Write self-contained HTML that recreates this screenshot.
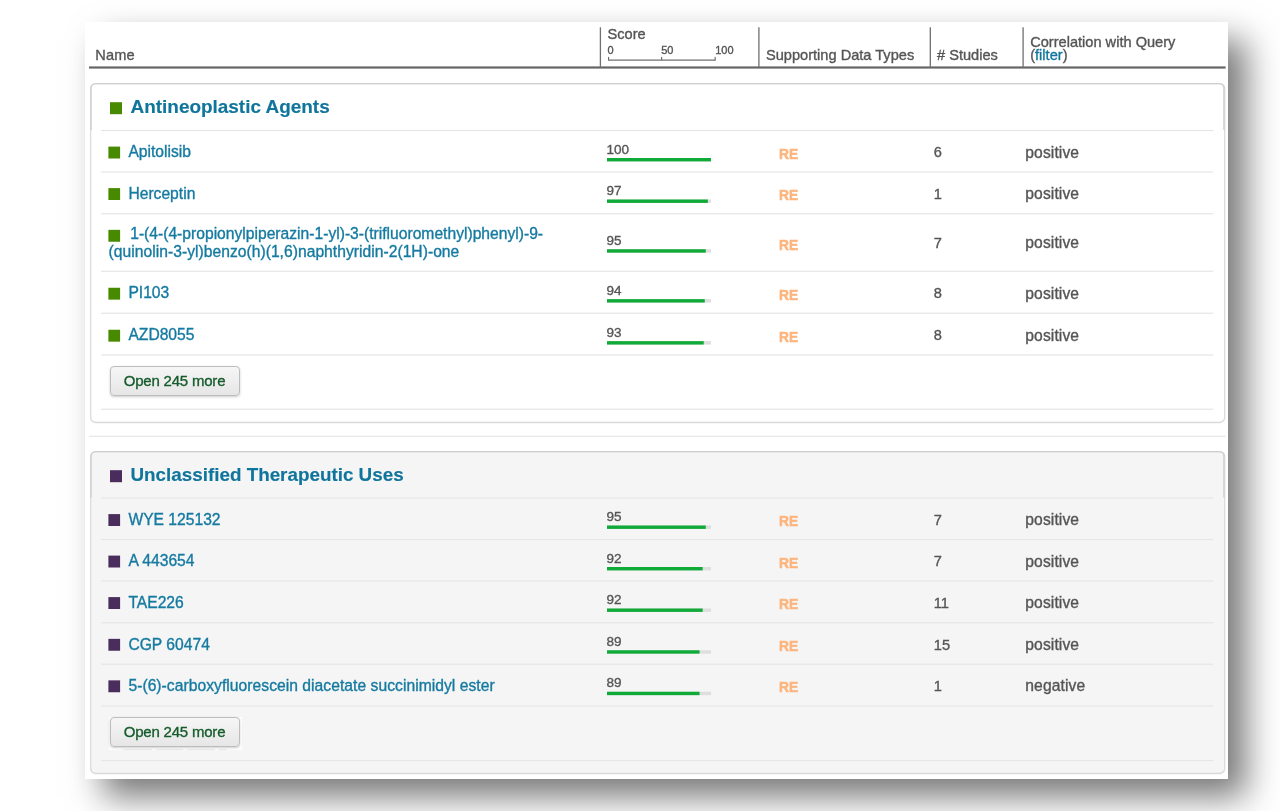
<!DOCTYPE html>
<html lang="en"><head><meta charset="utf-8"><title>Results</title>
<style>
html,body{margin:0;padding:0;background:#fff;}
body{width:1280px;height:811px;position:relative;overflow:hidden;font-family:"Liberation Sans",Arial,Helvetica,sans-serif;}
#page{position:absolute;left:85px;top:22px;width:1143px;height:757px;background:#fff;box-shadow:17.5px 18px 32px 0 rgba(0,0,0,0.53);}
.t{position:absolute;white-space:nowrap;-webkit-text-stroke:0.35px currentColor;}
.t.b{-webkit-text-stroke:0.15px currentColor;}
.t.re{-webkit-text-stroke:0.55px currentColor;transform:scaleX(0.92);transform-origin:0 0;}
#g{position:absolute;left:0;top:0;pointer-events:none;}
.box{position:absolute;box-sizing:border-box;border-radius:5px;box-shadow:0 1px 2px rgba(0,0,0,0.13);}
.bk{position:absolute;background:#fff;}
.btn{position:absolute;box-sizing:border-box;width:130px;height:30px;border:1px solid #bdbdbd;border-radius:4px;
 background:linear-gradient(#f6f6f6,#e6e6e6);box-shadow:0 1px 2.5px rgba(0,0,0,0.2);-webkit-text-stroke:0.35px currentColor;
 color:#155c2b;font-size:15px;letter-spacing:-0.2px;line-height:27.6px;padding-right:1px;text-align:center;white-space:nowrap;}
</style></head>
<body>
<div id="page"></div>
<div class="t" style="left:95.30px;top:47.08px;font-size:14.6px;line-height:17.52px;color:#555;font-weight:normal;letter-spacing:0.12px;">Name</div>
<div class="t" style="left:607.50px;top:26.08px;font-size:14.6px;line-height:17.52px;color:#555;font-weight:normal;">Score</div>
<div class="t" style="left:607.60px;top:44.09px;font-size:11px;line-height:13.2px;color:#555;font-weight:normal;">0</div>
<div class="t" style="left:661.20px;top:44.09px;font-size:11px;line-height:13.2px;color:#555;font-weight:normal;">50</div>
<div class="t" style="left:715.20px;top:44.09px;font-size:11px;line-height:13.2px;color:#555;font-weight:normal;">100</div>
<div class="t" style="left:766.00px;top:46.58px;font-size:14.6px;line-height:17.52px;color:#555;font-weight:normal;">Supporting Data Types</div>
<div class="t" style="left:937.00px;top:46.58px;font-size:14.6px;line-height:17.52px;color:#555;font-weight:normal;"># Studies</div>
<div class="t" style="left:1030.20px;top:34.18px;font-size:14.6px;line-height:17.52px;color:#555;font-weight:normal;">Correlation with Query</div>
<div class="t" style="left:1030.20px;top:46.78px;font-size:14.6px;line-height:17.52px;color:#555;font-weight:normal;">(<span style="color:#10759c">filter</span>)</div>
<div class="box" style="left:91px;top:83.50px;width:1133.4px;height:338.90px;background:#fff"></div>
<div class="t b" style="left:130.50px;top:96.26px;font-size:18.95px;line-height:22.74px;color:#10759c;font-weight:bold;">Antineoplastic Agents</div>
<div class="t" style="left:128.40px;top:143.29px;font-size:15.65px;line-height:18.78px;color:#157aa1;font-weight:normal;">Apitolisib</div>
<div class="t" style="left:606.40px;top:141.62px;font-size:13.5px;line-height:16.2px;color:#555;font-weight:normal;">100</div>
<div class="t re" style="left:778.60px;top:144.70px;font-size:15.0px;line-height:18.0px;color:#fdb57e;font-weight:bold;">RE</div>
<div class="t" style="left:933.80px;top:144.28px;font-size:14.6px;line-height:17.52px;color:#555;font-weight:normal;">6</div>
<div class="t" style="left:1025.30px;top:143.69px;font-size:15.65px;line-height:18.78px;color:#555;font-weight:normal;letter-spacing:0.1px;">positive</div>
<div class="t" style="left:128.40px;top:184.79px;font-size:15.65px;line-height:18.78px;color:#157aa1;font-weight:normal;">Herceptin</div>
<div class="t" style="left:606.40px;top:183.12px;font-size:13.5px;line-height:16.2px;color:#555;font-weight:normal;">97</div>
<div class="t re" style="left:778.60px;top:186.20px;font-size:15.0px;line-height:18.0px;color:#fdb57e;font-weight:bold;">RE</div>
<div class="t" style="left:933.80px;top:185.78px;font-size:14.6px;line-height:17.52px;color:#555;font-weight:normal;">1</div>
<div class="t" style="left:1025.30px;top:185.19px;font-size:15.65px;line-height:18.78px;color:#555;font-weight:normal;letter-spacing:0.1px;">positive</div>
<div class="t" style="left:130.20px;top:225.04px;font-size:15.65px;line-height:18.78px;color:#157aa1;font-weight:normal;">1-(4-(4-propionylpiperazin-1-yl)-3-(trifluoromethyl)phenyl)-9-</div>
<div class="t" style="left:108.60px;top:242.84px;font-size:15.65px;line-height:18.78px;color:#157aa1;font-weight:normal;letter-spacing:0.025px;">(quinolin-3-yl)benzo(h)(1,6)naphthyridin-2(1H)-one</div>
<div class="t" style="left:606.40px;top:232.87px;font-size:13.5px;line-height:16.2px;color:#555;font-weight:normal;">95</div>
<div class="t re" style="left:778.60px;top:235.95px;font-size:15.0px;line-height:18.0px;color:#fdb57e;font-weight:bold;">RE</div>
<div class="t" style="left:933.80px;top:234.73px;font-size:14.6px;line-height:17.52px;color:#555;font-weight:normal;">7</div>
<div class="t" style="left:1025.30px;top:234.24px;font-size:15.65px;line-height:18.78px;color:#555;font-weight:normal;letter-spacing:0.1px;">positive</div>
<div class="t" style="left:128.40px;top:284.44px;font-size:15.65px;line-height:18.78px;color:#157aa1;font-weight:normal;">PI103</div>
<div class="t" style="left:606.40px;top:282.77px;font-size:13.5px;line-height:16.2px;color:#555;font-weight:normal;">94</div>
<div class="t re" style="left:778.60px;top:285.85px;font-size:15.0px;line-height:18.0px;color:#fdb57e;font-weight:bold;">RE</div>
<div class="t" style="left:933.80px;top:285.43px;font-size:14.6px;line-height:17.52px;color:#555;font-weight:normal;">8</div>
<div class="t" style="left:1025.30px;top:284.84px;font-size:15.65px;line-height:18.78px;color:#555;font-weight:normal;letter-spacing:0.1px;">positive</div>
<div class="t" style="left:128.40px;top:326.44px;font-size:15.65px;line-height:18.78px;color:#157aa1;font-weight:normal;">AZD8055</div>
<div class="t" style="left:606.40px;top:324.77px;font-size:13.5px;line-height:16.2px;color:#555;font-weight:normal;">93</div>
<div class="t re" style="left:778.60px;top:327.85px;font-size:15.0px;line-height:18.0px;color:#fdb57e;font-weight:bold;">RE</div>
<div class="t" style="left:933.80px;top:327.43px;font-size:14.6px;line-height:17.52px;color:#555;font-weight:normal;">8</div>
<div class="t" style="left:1025.30px;top:326.84px;font-size:15.65px;line-height:18.78px;color:#555;font-weight:normal;letter-spacing:0.1px;">positive</div>
<div class="btn" style="left:110px;top:366.25px">Open 245 more</div>
<div class="box" style="left:91px;top:451.50px;width:1133.4px;height:321.90px;background:#f5f5f5"></div>
<div class="t b" style="left:130.50px;top:464.37px;font-size:18.84px;line-height:22.61px;color:#10759c;font-weight:bold;">Unclassified Therapeutic Uses</div>
<div class="t" style="left:128.40px;top:510.79px;font-size:15.65px;line-height:18.78px;color:#157aa1;font-weight:normal;">WYE 125132</div>
<div class="t" style="left:606.40px;top:509.12px;font-size:13.5px;line-height:16.2px;color:#555;font-weight:normal;">95</div>
<div class="t re" style="left:778.60px;top:512.20px;font-size:15.0px;line-height:18.0px;color:#fdb57e;font-weight:bold;">RE</div>
<div class="t" style="left:933.80px;top:511.78px;font-size:14.6px;line-height:17.52px;color:#555;font-weight:normal;">7</div>
<div class="t" style="left:1025.30px;top:511.19px;font-size:15.65px;line-height:18.78px;color:#555;font-weight:normal;letter-spacing:0.1px;">positive</div>
<div class="t" style="left:128.40px;top:552.29px;font-size:15.65px;line-height:18.78px;color:#157aa1;font-weight:normal;">A 443654</div>
<div class="t" style="left:606.40px;top:550.62px;font-size:13.5px;line-height:16.2px;color:#555;font-weight:normal;">92</div>
<div class="t re" style="left:778.60px;top:553.70px;font-size:15.0px;line-height:18.0px;color:#fdb57e;font-weight:bold;">RE</div>
<div class="t" style="left:933.80px;top:553.28px;font-size:14.6px;line-height:17.52px;color:#555;font-weight:normal;">7</div>
<div class="t" style="left:1025.30px;top:552.69px;font-size:15.65px;line-height:18.78px;color:#555;font-weight:normal;letter-spacing:0.1px;">positive</div>
<div class="t" style="left:128.40px;top:593.79px;font-size:15.65px;line-height:18.78px;color:#157aa1;font-weight:normal;">TAE226</div>
<div class="t" style="left:606.40px;top:592.12px;font-size:13.5px;line-height:16.2px;color:#555;font-weight:normal;">92</div>
<div class="t re" style="left:778.60px;top:595.20px;font-size:15.0px;line-height:18.0px;color:#fdb57e;font-weight:bold;">RE</div>
<div class="t" style="left:933.80px;top:594.78px;font-size:14.6px;line-height:17.52px;color:#555;font-weight:normal;">11</div>
<div class="t" style="left:1025.30px;top:594.19px;font-size:15.65px;line-height:18.78px;color:#555;font-weight:normal;letter-spacing:0.1px;">positive</div>
<div class="t" style="left:128.40px;top:635.54px;font-size:15.65px;line-height:18.78px;color:#157aa1;font-weight:normal;">CGP 60474</div>
<div class="t" style="left:606.40px;top:633.87px;font-size:13.5px;line-height:16.2px;color:#555;font-weight:normal;">89</div>
<div class="t re" style="left:778.60px;top:636.95px;font-size:15.0px;line-height:18.0px;color:#fdb57e;font-weight:bold;">RE</div>
<div class="t" style="left:933.80px;top:636.53px;font-size:14.6px;line-height:17.52px;color:#555;font-weight:normal;">15</div>
<div class="t" style="left:1025.30px;top:635.94px;font-size:15.65px;line-height:18.78px;color:#555;font-weight:normal;letter-spacing:0.1px;">positive</div>
<div class="t" style="left:128.40px;top:677.04px;font-size:15.65px;line-height:18.78px;color:#157aa1;font-weight:normal;letter-spacing:0.04px;">5-(6)-carboxyfluorescein diacetate succinimidyl ester</div>
<div class="t" style="left:606.40px;top:675.37px;font-size:13.5px;line-height:16.2px;color:#555;font-weight:normal;">89</div>
<div class="t re" style="left:778.60px;top:678.45px;font-size:15.0px;line-height:18.0px;color:#fdb57e;font-weight:bold;">RE</div>
<div class="t" style="left:933.80px;top:678.03px;font-size:14.6px;line-height:17.52px;color:#555;font-weight:normal;">1</div>
<div class="t" style="left:1025.30px;top:677.44px;font-size:15.65px;line-height:18.78px;color:#555;font-weight:normal;letter-spacing:0.1px;">negative</div>
<div class="bk" style="left:108.8px;top:716.65px;width:133.1px;height:33.2px"></div>
<div class="btn" style="left:110px;top:717.25px">Open 245 more</div>
<svg id="g" width="1280" height="811" viewBox="0 0 1280 811"><rect x="599.75" y="27.30" width="1.30" height="39.50" fill="#707070"/><rect x="758.25" y="27.30" width="1.30" height="39.50" fill="#707070"/><rect x="929.65" y="27.30" width="1.30" height="39.50" fill="#707070"/><rect x="1022.45" y="27.30" width="1.30" height="39.50" fill="#707070"/><rect x="608.00" y="59.50" width="107.70" height="1.20" fill="#6a6a6a"/><rect x="608.00" y="56.90" width="1.10" height="3.20" fill="#6a6a6a"/><rect x="661.10" y="56.90" width="1.10" height="3.20" fill="#6a6a6a"/><rect x="714.60" y="56.90" width="1.10" height="3.20" fill="#6a6a6a"/><rect x="89.00" y="66.40" width="1136.60" height="2.20" fill="#666"/><rect x="90.7" y="83.55" width="1134.0" height="338.80" rx="4.8" fill="none" stroke="#d9d9d9" stroke-width="1.15"/><path d="M91.05 129.90V88.15A4.6 4.6 0 0 1 95.65 83.55H1219.3A4.6 4.6 0 0 1 1223.9 88.15V129.90" fill="none" stroke="#cfcfcf" stroke-width="1.35"/><rect x="110.00" y="102.20" width="12.00" height="12.00" fill="#478a00"/><rect x="101.00" y="129.90" width="1112.20" height="1.20" fill="#e6e6e6"/><rect x="101.00" y="171.40" width="1112.20" height="1.20" fill="#e6e6e6"/><rect x="101.00" y="213.15" width="1112.20" height="1.20" fill="#e6e6e6"/><rect x="101.00" y="270.65" width="1112.20" height="1.20" fill="#e6e6e6"/><rect x="101.00" y="312.65" width="1112.20" height="1.20" fill="#e6e6e6"/><rect x="101.00" y="354.40" width="1112.20" height="1.20" fill="#e6e6e6"/><rect x="101.00" y="408.65" width="1112.20" height="1.20" fill="#e6e6e6"/><rect x="108.40" y="146.60" width="11.70" height="11.90" fill="#478a00"/><rect x="607.00" y="158.00" width="104.00" height="3.40" fill="#dedede"/><rect x="607.00" y="158.00" width="104.00" height="3.40" fill="#10aa38"/><rect x="108.40" y="188.10" width="11.70" height="11.90" fill="#478a00"/><rect x="607.00" y="199.50" width="104.00" height="3.40" fill="#dedede"/><rect x="607.00" y="199.50" width="100.88" height="3.40" fill="#10aa38"/><rect x="108.40" y="229.85" width="11.70" height="11.90" fill="#478a00"/><rect x="607.00" y="249.25" width="104.00" height="3.40" fill="#dedede"/><rect x="607.00" y="249.25" width="98.80" height="3.40" fill="#10aa38"/><rect x="108.40" y="287.75" width="11.70" height="11.90" fill="#478a00"/><rect x="607.00" y="299.15" width="104.00" height="3.40" fill="#dedede"/><rect x="607.00" y="299.15" width="97.76" height="3.40" fill="#10aa38"/><rect x="108.40" y="329.75" width="11.70" height="11.90" fill="#478a00"/><rect x="607.00" y="341.15" width="104.00" height="3.40" fill="#dedede"/><rect x="607.00" y="341.15" width="96.72" height="3.40" fill="#10aa38"/><rect x="89.00" y="435.70" width="1136.60" height="1.20" fill="#e6e6e6"/><rect x="90.7" y="451.55" width="1134.0" height="321.80" rx="4.8" fill="none" stroke="#d9d9d9" stroke-width="1.15"/><path d="M91.05 497.40V456.15A4.6 4.6 0 0 1 95.65 451.55H1219.3A4.6 4.6 0 0 1 1223.9 456.15V497.40" fill="none" stroke="#cfcfcf" stroke-width="1.35"/><rect x="110.00" y="470.20" width="12.00" height="12.00" fill="#4a2d5c"/><rect x="101.00" y="497.40" width="1112.20" height="1.20" fill="#e6e6e6"/><rect x="101.00" y="538.90" width="1112.20" height="1.20" fill="#e6e6e6"/><rect x="101.00" y="580.40" width="1112.20" height="1.20" fill="#e6e6e6"/><rect x="101.00" y="622.15" width="1112.20" height="1.20" fill="#e6e6e6"/><rect x="101.00" y="663.65" width="1112.20" height="1.20" fill="#e6e6e6"/><rect x="101.00" y="705.40" width="1112.20" height="1.20" fill="#e6e6e6"/><rect x="101.00" y="759.90" width="1112.20" height="1.20" fill="#e6e6e6"/><rect x="108.40" y="514.10" width="11.70" height="11.90" fill="#4a2d5c"/><rect x="607.00" y="525.50" width="104.00" height="3.40" fill="#dedede"/><rect x="607.00" y="525.50" width="98.80" height="3.40" fill="#10aa38"/><rect x="108.40" y="555.60" width="11.70" height="11.90" fill="#4a2d5c"/><rect x="607.00" y="567.00" width="104.00" height="3.40" fill="#dedede"/><rect x="607.00" y="567.00" width="95.68" height="3.40" fill="#10aa38"/><rect x="108.40" y="597.10" width="11.70" height="11.90" fill="#4a2d5c"/><rect x="607.00" y="608.50" width="104.00" height="3.40" fill="#dedede"/><rect x="607.00" y="608.50" width="95.68" height="3.40" fill="#10aa38"/><rect x="108.40" y="638.85" width="11.70" height="11.90" fill="#4a2d5c"/><rect x="607.00" y="650.25" width="104.00" height="3.40" fill="#dedede"/><rect x="607.00" y="650.25" width="92.56" height="3.40" fill="#10aa38"/><rect x="108.40" y="680.35" width="11.70" height="11.90" fill="#4a2d5c"/><rect x="607.00" y="691.75" width="104.00" height="3.40" fill="#dedede"/><rect x="607.00" y="691.75" width="92.56" height="3.40" fill="#10aa38"/><rect x="123.40" y="749.10" width="28.20" height="0.80" fill="#e2e2e2"/><rect x="156.30" y="749.10" width="26.90" height="0.80" fill="#e2e2e2"/><rect x="187.30" y="749.10" width="27.60" height="0.80" fill="#e2e2e2"/><rect x="219.00" y="749.10" width="7.60" height="0.80" fill="#e2e2e2"/></svg>
</body></html>
